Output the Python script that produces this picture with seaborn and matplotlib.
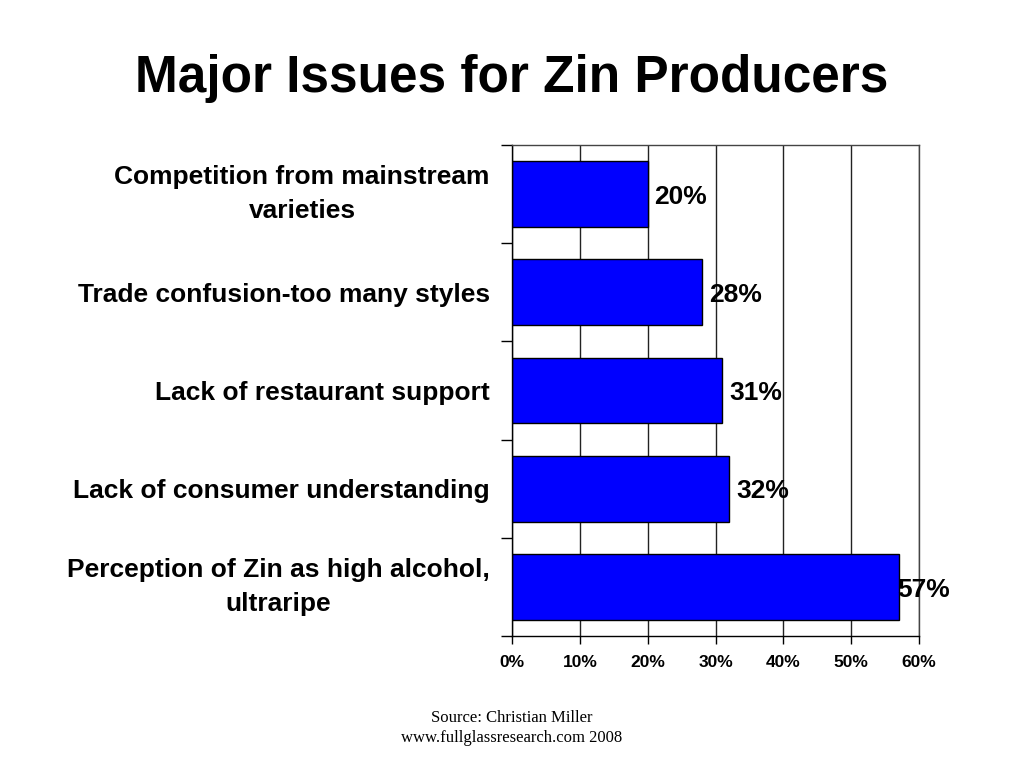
import matplotlib.pyplot as plt
import seaborn as sns
from matplotlib.ticker import FixedLocator

# Data (top to bottom)
categories = ['Competition from mainstream\nvarieties',
              'Trade confusion-too many styles',
              'Lack of restaurant support',
              'Lack of consumer understanding',
              'Perception of Zin as high alcohol,\nultraripe']
values = [20, 28, 31, 32, 57]
xticks = [0, 10, 20, 30, 40, 50, 60]
xtick_labels = ['0%', '10%', '20%', '30%', '40%', '50%', '60%']

sns.set_style('white')
plt.rcParams['font.family'] = ['Liberation Sans', 'DejaVu Sans']
plt.rcParams['text.color'] = 'black'
plt.rcParams['xtick.color'] = 'black'
plt.rcParams['ytick.color'] = 'black'

fig = plt.figure(figsize=(10.24, 7.68), dpi=100)
ax = fig.add_axes([0.5, 0.172, 0.3975, 0.639])

sns.barplot(x=values, y=categories, orient='h', color='#0000FF',
            edgecolor='black', linewidth=1, width=0.67, saturation=1, ax=ax)

ax.set_xlim(0, 60)
ax.set_ylim(4.5, -0.5)
ax.set_xticks(xticks)
ax.set_xticklabels(xtick_labels, fontsize=12.5, fontweight='bold')
ax.xaxis.grid(True, color='#222222', linewidth=1)
ax.set_axisbelow(True)

# category boundary ticks on the left
ax.yaxis.set_minor_locator(FixedLocator([i - 0.5 for i in range(len(categories) + 1)]))
ax.tick_params(axis='y', which='minor', length=8, width=1, color='black', left=True)
ax.tick_params(axis='y', which='major', length=0, pad=16)
ax.tick_params(axis='x', which='major', length=6, width=1, color='black', bottom=True, pad=8)
for lab in ax.get_yticklabels():
    lab.set_fontsize(19)
    lab.set_fontweight('bold')
    lab.set_multialignment('center')
    lab.set_linespacing(1.55)
    if '\n' in lab.get_text():
        lab.set_verticalalignment('center')

for side in ['left', 'bottom']:
    ax.spines[side].set_color('black')
    ax.spines[side].set_linewidth(1)
for side in ['top', 'right']:
    ax.spines[side].set_color('#444444')
    ax.spines[side].set_linewidth(1)

texts = ax.bar_label(ax.containers[0], labels=[f'{v}%' for v in values], padding=5,
                     fontsize=19, fontweight='bold')
for t in texts:
    t.xyann = (5, -2)
# last label does not fit inside the frame, it sits on the bar end
texts[-1].xyann = (-1, -2)
ax.set_xlabel('')
ax.set_ylabel('')

fig.text(0.5, 0.880, 'Major Issues for Zin Producers', ha='center', va='baseline',
         fontsize=37, fontweight='bold')
fig.text(0.5, 0.052, 'Source: Christian Miller\nwww.fullglassresearch.com 2008',
         ha='center', va='center', fontsize=12, family='Liberation Serif',
         linespacing=1.4)

fig.savefig('out.png', dpi=100)
